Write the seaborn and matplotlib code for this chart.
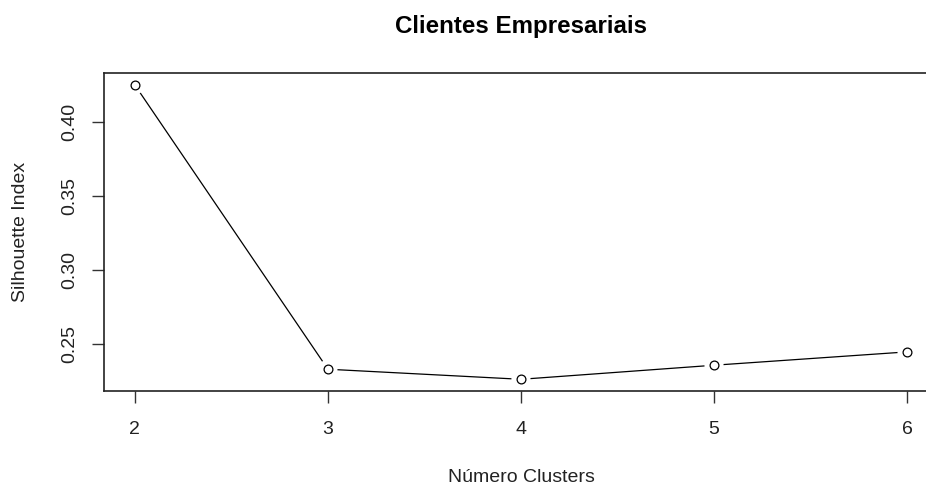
import matplotlib
matplotlib.use("Agg")
import matplotlib.pyplot as plt
import seaborn as sns
import pandas as pd

# Silhouette index by number of clusters
clusters = [2, 3, 4, 5, 6]
silhouette = [0.4248, 0.2329, 0.2261, 0.2356, 0.2446]
y_ticks = [0.25, 0.30, 0.35, 0.40]
x_ticks = [2, 3, 4, 5, 6]

sns.set_theme(style="white")
plt.rcParams["font.family"] = ["Liberation Sans", "DejaVu Sans"]

df = pd.DataFrame({"k": clusters, "sil": silhouette})

fig = plt.figure(figsize=(9.26, 4.87), dpi=100)
ax = fig.add_axes([0.1123, 0.197, 0.9006, 0.6525])

sns.lineplot(data=df, x="k", y="sil", ax=ax, color="black", linewidth=0.9)
# white halo around points so the line stops short of each circle
sns.scatterplot(data=df, x="k", y="sil", ax=ax, s=190, color="white",
                edgecolor="none", zorder=3)
sns.scatterplot(data=df, x="k", y="sil", ax=ax, s=40, facecolor="white",
                edgecolor="black", linewidth=0.9, zorder=4)

span_x = max(clusters) - min(clusters)
ax.set_xlim(min(clusters) - 0.04 * span_x, max(clusters) + 0.04 * span_x)
span_y = max(silhouette) - min(silhouette)
ax.set_ylim(min(silhouette) - 0.04 * span_y, max(silhouette) + 0.04 * span_y)

ax.set_xticks(x_ticks)
ax.set_xticklabels([str(v) for v in x_ticks])
ax.set_yticks(y_ticks)
ax.set_yticklabels([f"{v:.2f}" for v in y_ticks], rotation=90, va="center")

ax.tick_params(axis="both", direction="out", length=8.6, width=1, colors="#333333",
               labelcolor="#222222", labelsize=14, left=True, bottom=True)
ax.tick_params(axis="x", pad=13)
ax.tick_params(axis="y", pad=10)
for sp in ax.spines.values():
    sp.set_color("#222222")
    sp.set_linewidth(1.2)

ax.set_xlabel("Número Clusters", fontsize=14, color="#222222", va="center")
ax.set_ylabel("Silhouette Index", fontsize=14, color="#222222", va="center")
ax.xaxis.set_label_coords(0.501, -0.2706)
ax.yaxis.set_label_coords(-0.1007, 0.5)
fig.text(521 / 926, 1 - 27 / 487, "Clientes Empresariais", ha="center",
         va="center", fontsize=17.4, fontweight="bold", color="black")

fig.savefig("out.png", dpi=100, facecolor="white")
